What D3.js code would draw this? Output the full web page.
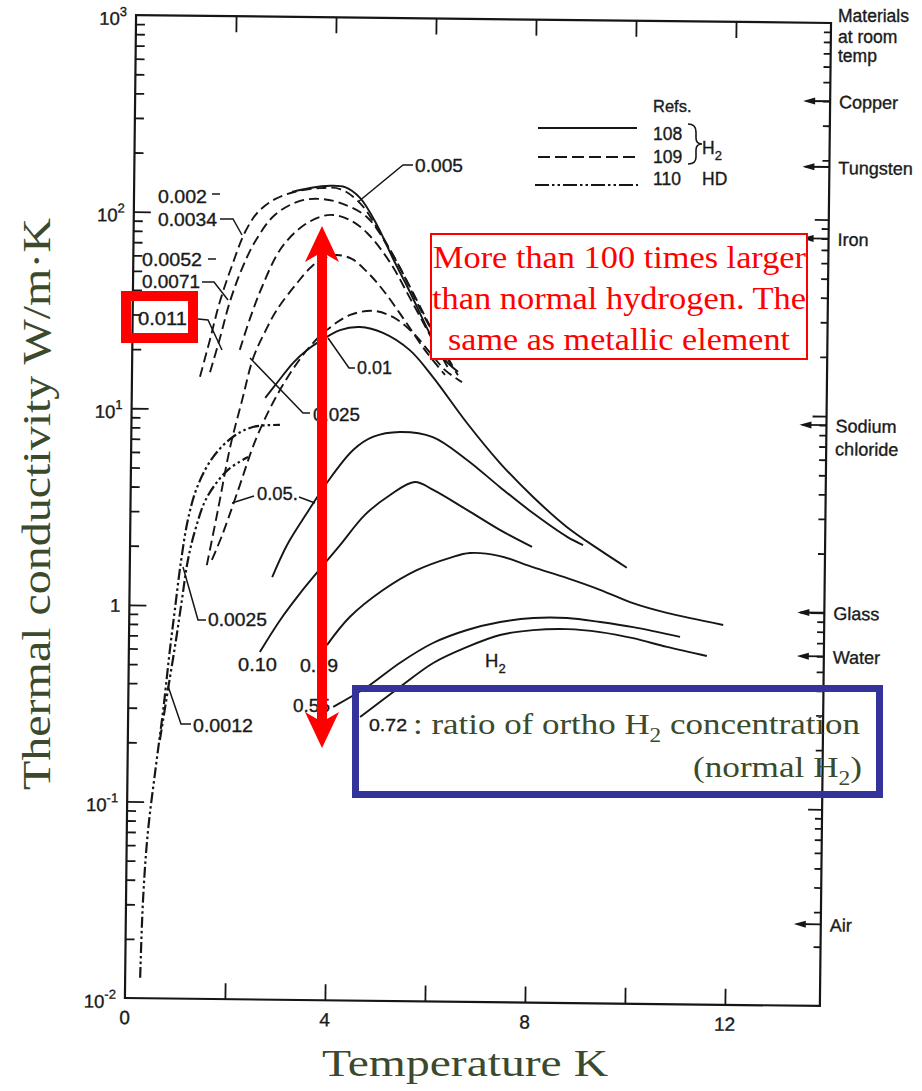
<!DOCTYPE html>
<html>
<head>
<meta charset="utf-8">
<script src="https://cdn.jsdelivr.net/npm/d3@7"></script>
<style>
  body { margin: 0; background: #fff; }
  svg { display: block; }
  .scan { font-family: "Liberation Sans", Arial, Helvetica, sans-serif; fill: #1a1a1a; stroke: #1a1a1a; stroke-width: 0.35px; }
  .serif { font-family: "Liberation Serif", "Times New Roman", serif; }
</style>
</head>
<body>
<svg id="chart" width="922" height="1091"></svg>
<script>
// ---------- axis ticks ----------
const tempTicks = [0, 4, 8, 12];
const tempTickMarks = [2, 4, 6, 8, 10, 12];
const decadeExponents = [-2, -1, 0, 1, 2, 3];

// ---------- thermal conductivity of solid hydrogen, [T (K), k (W/m·K)] ----------
// Ref. 108 (solid lines), labelled by ortho-H2 concentration
const ref108_0005 = [[3.16,128.6],[3.52,135],[3.92,139],[4.22,137],[4.52,121],[4.87,88],[5.19,60],[5.54,40.5],[5.89,26.6],[6.22,18.8],[6.52,16.0]];
const ref108_001  = [[2.67,11.5],[2.90,13.7],[3.22,17.4],[3.49,20.2],[3.75,22.5],[4.15,25.7],[4.55,26.7],[5.01,25.0],[5.55,20.5],[6.02,15.0],[6.71,8.8],[7.38,5.53],[8.05,3.73],[8.73,2.64],[9.40,2.02],[9.94,1.65]];
const ref108_005  = [[2.85,1.41],[3.14,2.06],[3.53,3.0],[3.92,4.28],[4.44,6.32],[4.83,7.38],[5.37,7.85],[6.03,7.43],[6.72,5.71],[7.38,4.18],[8.05,3.09],[8.74,2.35],[9.06,2.14]];
const ref108_010  = [[2.62,0.586],[3.02,0.855],[3.41,1.17],[3.74,1.49],[4.20,2.07],[4.69,2.96],[5.19,3.75],[5.68,4.38],[6.05,4.0],[6.73,3.18],[7.40,2.52],[8.04,2.08]];
const ref108_019  = [[3.96,0.641],[4.41,0.893],[5.07,1.23],[5.74,1.56],[6.40,1.81],[6.80,1.92],[7.40,1.86],[8.06,1.64],[8.75,1.45],[9.41,1.27],[10.07,1.09],[10.75,0.977],[11.88,0.855]];
const ref108_055  = [[4.10,0.311],[4.77,0.394],[5.42,0.525],[6.08,0.666],[6.76,0.779],[7.42,0.859],[8.08,0.904],[8.76,0.908],[9.42,0.871],[10.08,0.824],[11.02,0.739]];
const ref108_072  = [[4.64,0.277],[5.43,0.396],[6.09,0.527],[6.76,0.638],[7.42,0.738],[8.08,0.785],[8.76,0.798],[9.42,0.774],[10.08,0.724],[10.76,0.656],[11.56,0.593]];

// Ref. 109 (dashed lines)
const ref109_0002 = [[1.36,14.6],[1.55,22.5],[1.74,35.2],[1.98,54.3],[2.23,80],[2.48,101],[2.82,118],[3.22,129],[3.72,135],[4.12,134],[4.52,114],[4.93,80.6],[5.34,53.5],[5.74,33.6],[6.15,21.9],[6.40,17.3]];
const ref109_0034 = [[1.56,15.4],[1.75,23.0],[1.94,35.2],[2.18,52.4],[2.45,73],[2.82,98],[3.32,116],[3.72,119],[4.12,114],[4.66,97],[5.13,66],[5.54,43],[5.95,27.2],[6.32,18.4],[6.52,15.4]];
const ref109_0052 = [[2.15,20.1],[2.35,29.2],[2.58,42.1],[2.93,65.1],[3.33,84.5],[3.72,96.3],[3.98,98.8],[4.32,93.4],[4.67,80.4],[5.13,57.4],[5.54,37.8],[5.95,24.5],[6.32,16.7]];
const ref109_0025 = [[1.54,1.61],[1.75,3.08],[1.98,6.44],[2.21,11.2],[2.42,18.3],[2.65,24.9],[2.88,32.2],[3.28,44.3],[3.58,54.2],[3.83,59.7],[4.07,61.9],[4.37,59.2],[4.68,50.9],[5.00,41.3],[5.41,29.8],[5.85,20.6],[6.26,15.4]];
const ref109_005  = [[1.64,1.71],[1.84,2.29],[2.13,3.76],[2.51,7.26],[2.96,12.6],[3.49,20.2],[3.89,25.7],[4.35,30.7],[4.81,32.3],[5.21,30.1],[5.61,25.1],[5.96,19.9],[6.26,16.3],[6.60,14.2]];

// Ref. 110 (dash-dot lines), HD
const ref110_0012 = [[0.30,0.0127],[0.34,0.0316],[0.42,0.0693],[0.57,0.154],[0.70,0.293],[0.82,0.592],[0.91,0.947],[1.02,1.66],[1.15,2.72],[1.33,4.01],[1.64,5.71],[2.03,7.24],[2.43,8.16],[2.97,8.39]];
const ref110_0025 = [[0.64,0.206],[0.79,0.371],[0.94,0.667],[1.05,1.07],[1.16,1.70],[1.31,2.48],[1.53,3.57],[1.94,4.92],[2.34,5.74]];

// Materials at room temperature (right-hand scale)
const materialNames  = ["Copper", "Tungsten", "Iron", "Sodium|chloride", "Glass", "Water", "Air"];
const materialValues = [400, 185, 80, 9, 1.0, 0.6, 0.026];

// ---------- series styling ----------
const lineStyles = { "108": null, "109": "10,5", "110": "11,3,2.5,3,2.5,3" };
const lineWidths = { "108": 1.9, "109": 1.9, "110": 2.2 };
const series = [
  { ref: "108", data: ref108_0005 }, { ref: "108", data: ref108_001 }, { ref: "108", data: ref108_005 },
  { ref: "108", data: ref108_010 }, { ref: "108", data: ref108_019 }, { ref: "108", data: ref108_055 },
  { ref: "108", data: ref108_072 },
  { ref: "109", data: ref109_0002 }, { ref: "109", data: ref109_0034 }, { ref: "109", data: ref109_0052 },
  { ref: "109", data: ref109_0025 }, { ref: "109", data: ref109_005 },
  { ref: "110", data: ref110_0012 }, { ref: "110", data: ref110_0025 }
];

const ink = "#161616";
const svg = d3.select("#chart");

const x = d3.scaleLinear().domain([0, 13.9]).range([130.5, 825.5]);
const y = d3.scaleLog().domain([0.01, 1000]).range([1002, 19]);

// the printed figure sits very slightly rotated on the page
const plot = svg.append("g").attr("transform", "rotate(0.65,478,508)");

// frame
plot.append("rect")
  .attr("x", x(0)).attr("y", y(1000))
  .attr("width", x(13.9) - x(0)).attr("height", y(0.01) - y(1000))
  .attr("fill", "none").attr("stroke", ink).attr("stroke-width", 2.2);

const majorVals = decadeExponents.map(e => Math.pow(10, e));
const minorVals = [];
decadeExponents.slice(0, -1).forEach(e => { for (let m = 2; m <= 9; m++) minorVals.push(m * Math.pow(10, e)); });

function styleAxis(g) {
  g.select(".domain").remove();
  g.selectAll("line").attr("stroke", ink).attr("stroke-width", 1.8);
}
// left scale, ticks pointing into the plot
plot.append("g").attr("transform", `translate(${x(0)},0)`)
  .call(d3.axisRight(y).tickValues(majorVals.slice(1, -1)).tickSize(17).tickFormat("")).call(styleAxis);
plot.append("g").attr("transform", `translate(${x(0)},0)`)
  .call(d3.axisRight(y).tickValues(minorVals).tickSize(9).tickFormat("")).call(styleAxis);
// right scale
plot.append("g").attr("transform", `translate(${x(13.9)},0)`)
  .call(d3.axisLeft(y).tickValues(majorVals.slice(1, -1)).tickSize(14).tickFormat("")).call(styleAxis);
plot.append("g").attr("transform", `translate(${x(13.9)},0)`)
  .call(d3.axisLeft(y).tickValues(minorVals).tickSize(7).tickFormat("")).call(styleAxis);
// bottom and top temperature ticks
plot.append("g").attr("transform", `translate(0,${y(0.01)})`)
  .call(d3.axisTop(x).tickValues(tempTickMarks).tickSize(16).tickFormat("")).call(styleAxis);
plot.append("g").attr("transform", `translate(0,${y(1000)})`)
  .call(d3.axisBottom(x).tickValues(tempTickMarks).tickSize(16).tickFormat("")).call(styleAxis);

// temperature labels
plot.append("g").selectAll("text").data(tempTicks).join("text")
  .attr("class", "scan").attr("x", d => x(d)).attr("y", y(0.01) + 26)
  .attr("text-anchor", "middle").attr("font-size", 19).text(d => d);

// conductivity labels
const yLab = plot.append("g").attr("class", "scan");
decadeExponents.forEach(e => {
  const v = Math.pow(10, e);
  const t = yLab.append("text").attr("font-size", 18.5).attr("text-anchor", "end")
    .attr("x", x(0) - 9).attr("y", y(v) + (e === 0 ? 7 : 10));
  if (e === 0) { t.text("1"); return; }
  t.append("tspan").text("10");
  t.append("tspan").attr("dy", -9).attr("font-size", 13).text(e < 0 ? "-" + (-e) : e);
});

// curves
const line = d3.line().x(d => x(d[0])).y(d => y(d[1])).curve(d3.curveCatmullRom.alpha(0.5));
plot.append("g").selectAll("path").data(series).join("path")
  .attr("d", d => line(d.data))
  .attr("fill", "none").attr("stroke", ink).attr("stroke-width", d => lineWidths[d.ref])
  .attr("stroke-dasharray", d => lineStyles[d.ref]);

// material arrows on the right scale
const mat = plot.append("g");
materialValues.forEach((v, i) => {
  const yy = y(v), xr = x(13.9);
  mat.append("line").attr("x1", xr - 24).attr("x2", xr).attr("y1", yy).attr("y2", yy)
    .attr("stroke", ink).attr("stroke-width", 1.9);
  mat.append("path").attr("d", `M${xr - 27},${yy} L${xr - 15},${yy - 3.5} L${xr - 15},${yy + 3.5} Z`).attr("fill", ink);
  const parts = materialNames[i].split("|");
  parts.forEach((p, j) => {
    mat.append("text").attr("class", "scan").attr("font-size", 18)
      .attr("x", xr + 9).attr("y", yy + 7 + j * 23).text(p);
  });
});

// ---------- labels printed with the figure ----------
const lab = svg.append("g").attr("class", "scan");
[["Materials", 22], ["at room", 43], ["temp", 62]].forEach(([t, yy]) =>
  lab.append("text").attr("x", 838).attr("y", yy).attr("font-size", 17.5).text(t));

const curveLabels = [
  ["0.002", 158, 203, 49], ["0.0034", 158, 226, 59], ["0.0052", 142, 266, 60], ["0.0071", 142, 288, 58],
  ["0.011", 138, 325, 49], ["0.025", 313, 421, 47], ["0.01", 357, 374, 35], ["0.005", 415, 172, 48],
  ["0.05.", 257, 500, 41], ["0.0025", 208, 626, 59], ["0.0012", 193, 732, 60],
  ["0.10", 238, 671, 39], ["0.19", 300, 672, 38], ["0.55", 293, 712, 37]
];
curveLabels.forEach(([t, lx, ly, w]) =>
  lab.append("text").attr("x", lx).attr("y", ly).attr("font-size", 18.5)
    .attr("textLength", w).attr("lengthAdjust", "spacingAndGlyphs").text(t));

const h2 = lab.append("text").attr("x", 485).attr("y", 667).attr("font-size", 18.5);
h2.append("tspan").text("H");
h2.append("tspan").attr("dy", 6).attr("font-size", 13).text("2");

const leaders = [
  "M212,194 L220,194", "M220,219 L233,219 L242,235", "M208,259 L216,259",
  "M202,282 L214,282 L228,300", "M198,319 L208,320 L222,350", "M310,413 L303,413 L250,358",
  "M355,368 L349,368 L328,338", "M413,165 L403,165 L358,202", "M299,497 L315,503", "M232,503 L254,496",
  "M206,620 L198,620 L183,567", "M191,724 L181,724 L168,686"
];
svg.append("g").selectAll("path").data(leaders).join("path")
  .attr("d", d => d).attr("fill", "none").attr("stroke", ink).attr("stroke-width", 1.5);

// legend
const leg = svg.append("g");
leg.append("text").attr("class", "scan").attr("x", 653).attr("y", 112).attr("font-size", 16.5).text("Refs.");
[[128, null, 538, 637, "108", 140], [157, "12,5", 538, 637, "109", 163], [185, "14,3,2.5,3,2.5,3", 535, 638, "110", 185]]
  .forEach(([ly, dash, x1, x2, t, ty]) => {
    leg.append("line").attr("x1", x1).attr("x2", x2).attr("y1", ly).attr("y2", ly)
      .attr("stroke", ink).attr("stroke-width", 2.2).attr("stroke-dasharray", dash);
    leg.append("text").attr("class", "scan").attr("x", 653).attr("y", ty)
      .attr("font-size", 17.5).text(t);
  });
leg.append("path").attr("d", "M688,124 Q696,124 696,132 L696,138 Q696,144 702,144 Q696,144 696,150 L696,157 Q696,164 688,164")
  .attr("fill", "none").attr("stroke", ink).attr("stroke-width", 1.6);
const legH2 = leg.append("text").attr("class", "scan").attr("x", 702).attr("y", 154).attr("font-size", 17.5);
legH2.append("tspan").text("H");
legH2.append("tspan").attr("dy", 6).attr("font-size", 13).text("2");
leg.append("text").attr("class", "scan").attr("x", 702).attr("y", 185).attr("font-size", 17.5).text("HD");

// ---------- annotations ----------
const ann = svg.append("g");
const red = "#ff0000", green = "#3b4a2c", blue = "#333399";

ann.append("rect").attr("x", 431).attr("y", 234).attr("width", 376).attr("height", 125)
  .attr("fill", "#fff").attr("stroke", red).attr("stroke-width", 2);
[["More than 100 times larger", 433, 268, 373], ["than normal hydrogen. The", 432, 309, 374],
 ["same as metallic element", 448, 350, 342]].forEach(([t, tx, ty, w]) =>
  ann.append("text").attr("class", "serif").attr("x", tx).attr("y", ty).attr("font-size", 32)
    .attr("fill", red).attr("textLength", w).attr("lengthAdjust", "spacingAndGlyphs").text(t));

ann.append("rect").attr("x", 126).attr("y", 296).attr("width", 67).attr("height", 42)
  .attr("fill", "none").attr("stroke", red).attr("stroke-width", 10);

// double-headed arrow
ann.append("path").attr("fill", red)
  .attr("d", "M322,226 L339,262 L327,255 L327,719 L339,712 L322,748 L305,712 L317,719 L317,255 L305,262 Z");

// blue box note
ann.append("rect").attr("x", 355.5).attr("y", 688.5).attr("width", 524).attr("height", 106)
  .attr("fill", "none").attr("stroke", blue).attr("stroke-width", 7);
ann.append("text").attr("class", "scan").attr("x", 369).attr("y", 731).attr("font-size", 17)
  .attr("textLength", 38).attr("lengthAdjust", "spacingAndGlyphs").text("0.72");
const n1 = ann.append("text").attr("class", "serif").attr("x", 413).attr("y", 734).attr("font-size", 30)
  .attr("fill", green).attr("textLength", 447).attr("lengthAdjust", "spacingAndGlyphs");
n1.append("tspan").text(": ratio of ortho H");
n1.append("tspan").attr("dy", 8).attr("font-size", 20).text("2");
n1.append("tspan").attr("dy", -8).text(" concentration");
const n2 = ann.append("text").attr("class", "serif").attr("x", 693).attr("y", 777).attr("font-size", 30)
  .attr("fill", green).attr("textLength", 169).attr("lengthAdjust", "spacingAndGlyphs");
n2.append("tspan").text("(normal H");
n2.append("tspan").attr("dy", 8).attr("font-size", 20).text("2");
n2.append("tspan").attr("dy", -8).text(")");

// axis titles
ann.append("text").attr("class", "serif").attr("fill", green).attr("font-size", 40)
  .attr("transform", "translate(50,504) rotate(-90)").attr("text-anchor", "middle")
  .attr("textLength", 572).attr("lengthAdjust", "spacingAndGlyphs").text("Thermal conductivity W/m·K");
ann.append("text").attr("class", "serif").attr("fill", green).attr("font-size", 38)
  .attr("x", 322).attr("y", 1076)
  .attr("textLength", 286).attr("lengthAdjust", "spacingAndGlyphs").text("Temperature K");
</script>
</body>
</html>
